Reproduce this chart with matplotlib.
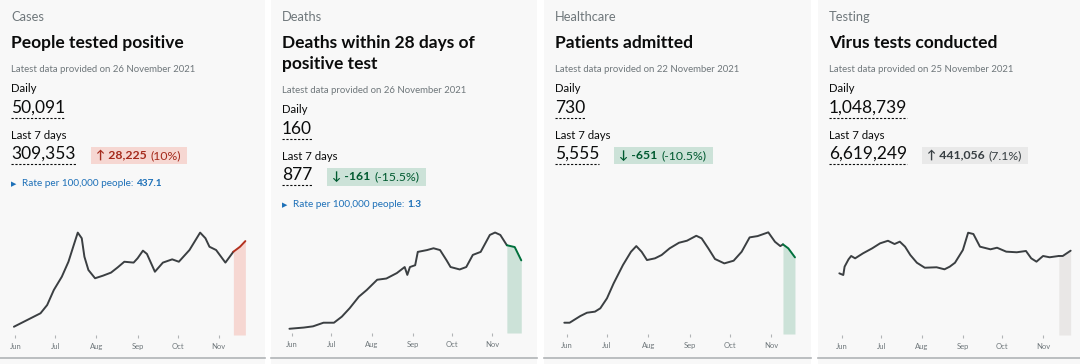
import matplotlib
matplotlib.use("Agg")
import matplotlib.pyplot as plt
from matplotlib.patches import Rectangle
from matplotlib.lines import Line2D

W, H = 1080, 364
FONT = ["Lato", "DejaVu Sans"]
INK = "#0b0c0c"
GREY = "#6f777b"
LINE = "#3b3f42"
BLUE = "#1d70b8"

# days counted from 1 June 2021
month_days = [0, 30, 61, 92, 122, 153]
month_labels = ["Jun", "Jul", "Aug", "Sep", "Oct", "Nov"]

# cases, 7-day average
cases_day = [-1, 9, 19, 24, 29, 35, 40, 44, 47, 50, 52, 55, 60, 66, 72, 77, 82, 89, 92, 96,
             99, 105, 111, 118, 123, 131, 139, 143, 146, 151, 158, 164, 169, 173]
cases_val = [3800, 6900, 10000, 13800, 20700, 26800, 33700, 41400, 47100, 44500, 36000,
             29900, 26100, 27300, 28700, 31100, 33700, 33300, 35300, 38800, 37300, 29100,
             33300, 34800, 33700, 39100, 47100, 44500, 40600, 39100, 33300, 38300, 40600, 43200]

# deaths within 28 days, 7-day average
deaths_day = [-2, 9, 16, 24, 32, 38, 44, 51, 57, 65, 72, 80, 86, 88, 90, 94, 96, 103, 108,
              113, 118, 121, 128, 133, 138, 144, 151, 155, 159, 164, 170, 175]
deaths_val = [7, 9, 11, 17, 17, 27, 41, 60, 71, 88, 90, 99, 109, 96, 109, 112, 134, 137, 140,
              137, 120, 109, 105, 109, 129, 134, 162, 166, 162, 145, 142, 120]

# patients admitted, 7-day average
admit_day = [-2, 2, 10, 15, 21, 25, 30, 35, 42, 48, 52, 56, 60, 66, 71, 77, 84, 90, 97, 101,
             106, 111, 118, 125, 131, 137, 143, 151, 156, 160, 162, 166, 171]
admit_val = [105, 105, 167, 198, 208, 239, 332, 471, 642, 765, 818, 765, 688, 704, 735, 797,
             849, 868, 914, 890, 797, 698, 657, 682, 765, 899, 911, 946, 858, 818, 834, 797, 713]

# virus tests conducted, 7-day average (thousands)
tests_day = [-2, 1, 2, 5, 7, 10, 16, 23, 29, 35, 40, 44, 48, 52, 57, 63, 72, 78, 82, 86, 92,
             96, 100, 105, 113, 118, 125, 133, 140, 144, 148, 153, 158, 165, 168, 174]
tests_val = [814, 792, 902, 999, 1043, 1012, 1078, 1144, 1210, 1244, 1201, 1232, 1166, 1056,
             954, 888, 894, 867, 902, 954, 1122, 1350, 1333, 1166, 1131, 1152, 1100, 1092,
             1109, 1012, 968, 1043, 1026, 1043, 1043, 1113]

tones = {
    "up": dict(line="#b3311f", fill="#f6d7d2", badge="#f6d7d2", text="#a52a1c", arrow="\u2191"),
    "down": dict(line="#00703c", fill="#cce2d8", badge="#cce2d8", text="#005a30", arrow="\u2193"),
    "neutral": dict(line=LINE, fill="#e9e7e6", badge="#e9e9e9", text="#383f43", arrow="\u2191"),
}

cards = [
    dict(left=0, right=265, cat="Cases", title=["People tested positive"],
         date="26 November 2021", daily="50,091", week="309,353", delta="28,225",
         pct="(10%)", tone="up", rate="437.1",
         x=cases_day, y=cases_val, split=31, ymax=52900,
         ax_left=8.6, ax_w=243.4, ax_bottom=335),
    dict(left=271, right=537, cat="Deaths", title=["Deaths within 28 days of", "positive test"],
         date="26 November 2021", daily="160", week="877", delta="-161",
         pct="(-15.5%)", tone="down", rate="1.3",
         x=deaths_day, y=deaths_val, split=29, ymax=190,
         ax_left=285.5, ax_w=239.7, ax_bottom=333),
    dict(left=544, right=811, cat="Healthcare", title=["Patients admitted"],
         date="22 November 2021", daily="730", week="5,555", delta="-651",
         pct="(-10.5%)", tone="down", rate=None,
         x=admit_day, y=admit_val, split=30, ymax=1070,
         ax_left=560.3, ax_w=244.0, ax_bottom=334),
    dict(left=818, right=1080, cat="Testing", title=["Virus tests conducted"],
         date="25 November 2021", daily="1,048,739", week="6,619,249", delta="441,056",
         pct="(7.1%)", tone="neutral", rate=None,
         x=tests_day, y=tests_val, split=33, ymax=1518,
         ax_left=835.4, ax_w=240.5, ax_bottom=335),
]

fig = plt.figure(figsize=(W / 100, H / 100), dpi=100)
fig.patch.set_facecolor("white")
renderer = fig.canvas.get_renderer()


def put(x, y, s, size, color=INK, weight="normal"):
    return fig.text(x / W, 1 - y / H, s, fontsize=size, color=color, fontweight=weight,
                    ha="left", va="baseline", family=FONT)


def right_edge(t):
    return t.get_window_extent(renderer=renderer).x1


for c in cards:
    fig.add_artist(Rectangle((c["left"] / W, 0), (c["right"] - c["left"]) / W, 1,
                             transform=fig.transFigure, facecolor="#f8f8f8",
                             edgecolor="none", zorder=0))
    fig.add_artist(Line2D([c["left"] / W, c["right"] / W], [1 - 357.5 / H] * 2,
                          color="#b1b4b6", lw=1.2))

    x0 = c["left"] + 11
    t = tones[c["tone"]]
    dy = 21 * (len(c["title"]) - 1)

    put(x0, 21, c["cat"], 9.3, GREY)
    for i, line in enumerate(c["title"]):
        put(x0, 48 + 21 * i, line, 12.5, INK, "bold")
    put(x0, 72 + dy, "Latest data provided on " + c["date"], 6.9, GREY)
    put(x0, 92 + dy, "Daily", 8.2, INK)
    num = put(x0, 113 + dy, c["daily"], 12.5, INK)
    fig.add_artist(Line2D([x0 / W, right_edge(num) / W], [1 - (118 + dy) / H] * 2,
                          color=INK, lw=0.8, ls=(0, (2, 1.5))))
    put(x0, 139 + dy, "Last 7 days", 8.2, INK)
    num = put(x0, 159 + dy, c["week"], 12.5, INK)
    x1 = right_edge(num)
    fig.add_artist(Line2D([x0 / W, x1 / W], [1 - (164 + dy) / H] * 2,
                          color=INK, lw=0.8, ls=(0, (2, 1.5))))

    bx = x1 + 15
    b1 = put(bx + 5, 159 + dy, t["arrow"] + " " + c["delta"], 8.8, t["text"], "bold")
    b2 = put(right_edge(b1) + 4, 159 + dy, c["pct"], 8.8, t["text"])
    bw = right_edge(b2) + 6 - bx
    fig.add_artist(Rectangle((bx / W, 1 - (164.5 + dy) / H), bw / W, 17.5 / H,
                             transform=fig.transFigure, facecolor=t["badge"],
                             edgecolor="none", zorder=0.5))

    if c["rate"]:
        put(x0, 186 + dy, "\u25B6", 5, BLUE)
        r = put(x0 + 11, 186 + dy, "Rate per 100,000 people: ", 7.2, BLUE)
        put(right_edge(r), 186 + dy, c["rate"], 7.2, BLUE, "bold")

    # chart
    ax_h = 115
    ax = fig.add_axes([c["ax_left"] / W, (H - c["ax_bottom"]) / H, c["ax_w"] / W, ax_h / H])
    ax.set_facecolor("none")
    s = c["split"]
    ax.fill_between(c["x"][s:], 0, c["y"][s:], color=t["fill"], lw=0)
    ax.plot(c["x"][:s + 1], c["y"][:s + 1], color=LINE, lw=1.4, solid_capstyle="round")
    ax.plot(c["x"][s:], c["y"][s:], color=t["line"], lw=1.4, solid_capstyle="round")
    ax.set_xlim(-5, 178)
    ax.set_ylim(0, c["ymax"])
    for sp in ax.spines.values():
        sp.set_visible(False)
    ax.set_yticks([])
    ax.set_xticks(month_days)
    ax.set_xticklabels(month_labels, family=FONT)
    ax.tick_params(axis="x", length=2, width=0.8, color="#b1b4b6", labelcolor=GREY,
                   labelsize=5.5, pad=4)

fig.savefig("out.png", dpi=100, facecolor="white")
